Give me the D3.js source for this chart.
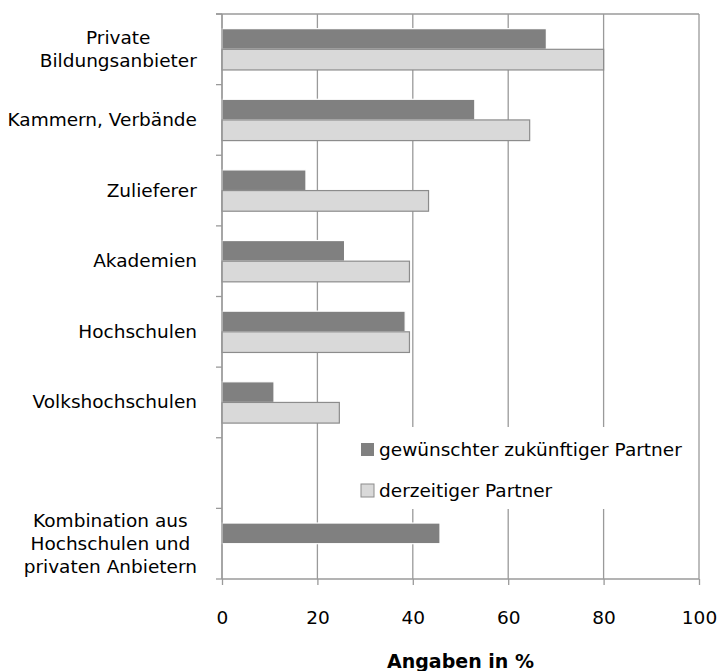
<!DOCTYPE html>
<html>
<head>
<meta charset="utf-8">
<script src="https://cdn.jsdelivr.net/npm/d3@7"></script>
<style>
  body { margin: 0; background: #fff; }
  text { font-family: "DejaVu Sans", sans-serif; fill: #000; }
</style>
</head>
<body>
<script>
// categories (lines of each label); empty slot before the last one
var categories = [
  ["Private", "Bildungsanbieter"],
  ["Kammern, Verbände"],
  ["Zulieferer"],
  ["Akademien"],
  ["Hochschulen"],
  ["Volkshochschulen"],
  [],
  ["Kombination aus", "Hochschulen und", "privaten Anbietern"]
];
var seriesNames = ["gewünschter zukünftiger Partner", "derzeitiger Partner"];
var wanted  = [68, 53, 17.6, 25.7, 38.4, 10.9, null, 45.7];
var current = [80, 64.5, 43.3, 39.3, 39.3, 24.6, null, null];
var xTicks = [0, 20, 40, 60, 80, 100];

var width = 717, height = 671;
var margin = {top: 14, right: 18, bottom: 92, left: 222};
var plotW = width - margin.left - margin.right,
    plotH = height - margin.top - margin.bottom;
var fontSize = "18.5px";

var svg = d3.select("body").append("svg")
    .attr("width", width)
    .attr("height", height);

var g = svg.append("g")
    .attr("transform", "translate(" + margin.left + "," + margin.top + ")");

var x = d3.scaleLinear().domain([0, 100]).range([0, plotW]);
var y0 = d3.scaleBand().domain(d3.range(categories.length)).range([0, plotH]).padding(0);
var y1 = d3.scaleBand().domain([0, 1]).range([0, y0.bandwidth()]).paddingInner(0).paddingOuter(0.71);

var gridColor = "#9a9a9a";

// vertical gridlines
g.selectAll(".grid")
  .data(xTicks)
  .enter().append("line")
    .attr("x1", d => x(d)).attr("x2", d => x(d))
    .attr("y1", 0).attr("y2", plotH)
    .attr("stroke", gridColor)
    .attr("stroke-width", 1.3);

// top border
g.append("line")
  .attr("x1", -6).attr("x2", plotW)
  .attr("y1", 0).attr("y2", 0)
  .attr("stroke", gridColor).attr("stroke-width", 1.3);

// bottom axis line
g.append("line")
  .attr("x1", 0).attr("x2", plotW)
  .attr("y1", plotH).attr("y2", plotH)
  .attr("stroke", gridColor).attr("stroke-width", 1.3);

// y ticks at category boundaries
var bounds = d3.range(categories.length + 1).map(i => i * y0.step());
g.selectAll(".ytick")
  .data(bounds)
  .enter().append("line")
    .attr("x1", -6).attr("x2", 0)
    .attr("y1", d => d).attr("y2", d => d)
    .attr("stroke", gridColor).attr("stroke-width", 1.3);

// x axis
var xAxis = g.append("g")
  .attr("transform", "translate(0," + plotH + ")")
  .call(d3.axisBottom(x).tickValues(xTicks).tickSize(6).tickPadding(26));
xAxis.select(".domain").remove();
xAxis.selectAll(".tick line").attr("stroke", gridColor).attr("stroke-width", 1.3);
xAxis.selectAll(".tick text")
  .style("font-family", "DejaVu Sans")
  .style("font-size", fontSize)
  .attr("fill", "#000");

// legend background
var legend = g.append("g").attr("transform", "translate(130,413)");
legend.append("rect")
  .attr("x", 0).attr("y", 0)
  .attr("width", 345).attr("height", 82)
  .attr("fill", "#fff");

// bars
var series = [wanted, current];
var fills = ["#808080", "#d9d9d9"];
var strokes = ["#fff", "#8c8c8c"];
series.forEach(function(vals, s) {
  g.selectAll(".bar" + s)
    .data(vals.map((v, i) => ({v: v, i: i})).filter(d => d.v != null))
    .enter().append("rect")
      .attr("x", x(0))
      .attr("y", d => y0(d.i) + y1(s))
      .attr("width", d => x(d.v) - x(0))
      .attr("height", y1.bandwidth())
      .attr("fill", fills[s])
      .attr("stroke", strokes[s])
      .attr("stroke-width", 1.2);
});

// left axis line on top of bars
g.append("line")
  .attr("x1", 0).attr("x2", 0)
  .attr("y1", 0).attr("y2", plotH)
  .attr("stroke", gridColor).attr("stroke-width", 1.3);

// category labels
var lineH = 23;
categories.forEach(function(lines, i) {
  if (!lines.length) return;
  var cy = y0(i) + y0.bandwidth() / 2;
  var t = g.append("text")
    .attr("text-anchor", "middle")
    .style("font-size", fontSize);
  lines.forEach(function(l, k) {
    t.append("tspan")
      .attr("x", 0)
      .attr("y", cy + 6 + (k - (lines.length - 1) / 2) * lineH)
      .text(l);
  });
  // right-align the block, centre each line
  var w = t.node().getBBox().width;
  t.selectAll("tspan").attr("x", -25 - w / 2);
});

// legend entries
seriesNames.forEach(function(name, s) {
  var row = legend.append("g").attr("transform", "translate(9," + (29 + s * 41) + ")");
  row.append("rect")
    .attr("x", 0).attr("y", -13)
    .attr("width", 13).attr("height", 13)
    .attr("fill", fills[s])
    .attr("stroke", s ? "#8c8c8c" : "none");
  row.append("text")
    .attr("x", 18).attr("y", 0)
    .style("font-size", fontSize)
    .text(name);
});

// axis title
svg.append("text")
  .attr("x", margin.left + plotW / 2)
  .attr("y", 668)
  .attr("text-anchor", "middle")
  .style("font-size", "19px")
  .style("font-weight", "bold")
  .text("Angaben in %");
</script>
</body>
</html>
